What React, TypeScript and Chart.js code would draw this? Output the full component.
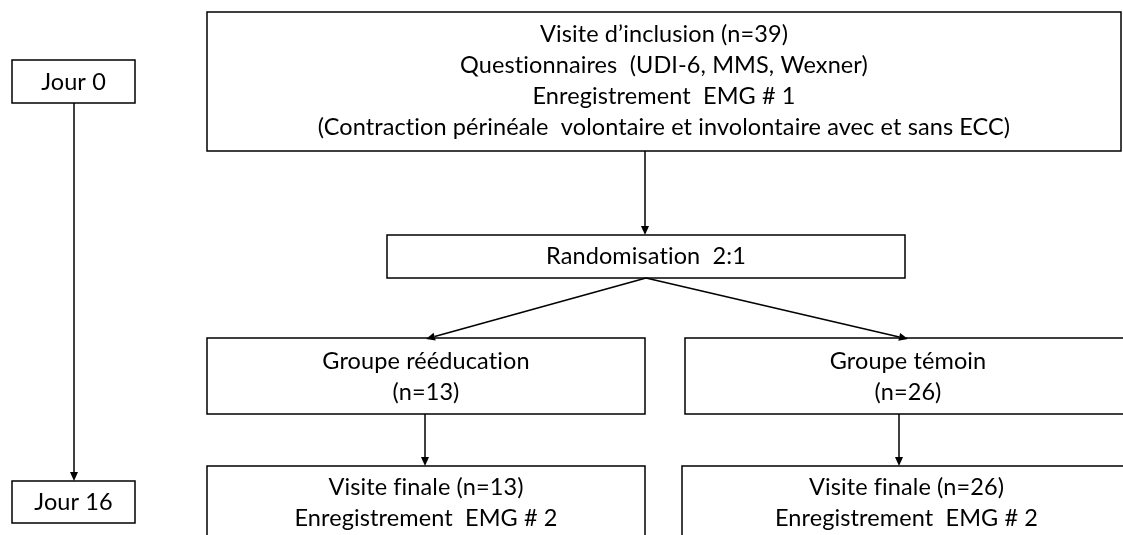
import React, { useEffect, useRef } from "react";
import { Chart, registerables } from "chart.js";

Chart.register(...registerables);

// ---- Content (text data) ----
const dayLabels = ["Jour 0", "Jour 16"];
const inclusionLines = [
  "Visite d\u2019inclusion (n=39)",
  "Questionnaires  (UDI-6, MMS, Wexner)",
  "Enregistrement  EMG # 1",
  "(Contraction périnéale  volontaire et involontaire avec et sans ECC)",
];
const randomLabel = "Randomisation  2:1";
const groupNames = ["Groupe rééducation", "Groupe témoin"];
const groupCounts = [13, 26];
const finalTitle = "Visite finale";
const finalRecording = "Enregistrement  EMG # 2";

// ---- Layout (in scale units, x: 0..1123, y: 0..535 top-down) ----
type Box = { x0: number; y0: number; x1: number; y1: number; ty: number; lines: string[] };

const boxes: Box[] = [
  { x0: 12, y0: 60, x1: 135, y1: 103, ty: 82, lines: [dayLabels[0]] },
  { x0: 12, y0: 481, x1: 135, y1: 523, ty: 502, lines: [dayLabels[1]] },
  { x0: 207, y0: 12, x1: 1121, y1: 151, ty: 81, lines: inclusionLines },
  { x0: 387, y0: 235, x1: 905, y1: 278, ty: 256.5, lines: [randomLabel] },
  { x0: 207, y0: 338, x1: 645, y1: 414, ty: 376.5, lines: [groupNames[0], `(n=${groupCounts[0]})`] },
  { x0: 685, y0: 338, x1: 1131, y1: 414, ty: 376.5, lines: [groupNames[1], `(n=${groupCounts[1]})`] },
  { x0: 207, y0: 466, x1: 645, y1: 560, ty: 502.5, lines: [`${finalTitle} (n=${groupCounts[0]})`, finalRecording] },
  { x0: 682, y0: 466, x1: 1131, y1: 560, ty: 502.5, lines: [`${finalTitle} (n=${groupCounts[1]})`, finalRecording] },
];

type Arrow = { x0: number; y0: number; x1: number; y1: number };
const arrows: Arrow[] = [
  { x0: 74, y0: 103, x1: 74, y1: 481 },
  { x0: 645, y0: 151, x1: 645, y1: 235 },
  { x0: 646, y0: 278, x1: 426, y1: 339 },
  { x0: 646, y0: 278, x1: 908, y1: 339 },
  { x0: 425, y0: 414, x1: 425, y1: 466 },
  { x0: 899, y0: 414, x1: 899, y1: 466 },
];

const LINE_GAP = 31;
const FONT = "23.5px Lato";

const flowPlugin = {
  id: "flow",
  afterDraw(chart: any) {
    const { ctx, scales } = chart;
    const X = (v: number) => scales.x.getPixelForValue(v);
    const Y = (v: number) => scales.y.getPixelForValue(v);
    ctx.save();
    ctx.fillStyle = "#ffffff";
    ctx.fillRect(0, 0, chart.width, chart.height);
    ctx.strokeStyle = "#000000";
    ctx.lineWidth = 1.5;
    // boxes
    boxes.forEach((b) => {
      ctx.strokeRect(X(b.x0), Y(b.y0), X(b.x1) - X(b.x0), Y(b.y1) - Y(b.y0));
      ctx.fillStyle = "#000000";
      ctx.font = FONT;
      try { (ctx as any).letterSpacing = "0.1px"; } catch (e) {}
      ctx.textAlign = "center";
      ctx.textBaseline = "middle";
      const cx = (X(b.x0) + X(b.x1)) / 2;
      const n = b.lines.length;
      b.lines.forEach((t, i) => {
        const y = Y(b.ty) + (i - (n - 1) / 2) * LINE_GAP;
        ctx.fillText(t, cx, y);
      });
    });
    // arrows
    arrows.forEach((a) => {
      const x0 = X(a.x0), y0 = Y(a.y0), x1 = X(a.x1), y1 = Y(a.y1);
      const ang = Math.atan2(y1 - y0, x1 - x0);
      const L = 9, W = 4;
      const bx = x1 - L * Math.cos(ang), by = y1 - L * Math.sin(ang);
      ctx.beginPath();
      ctx.moveTo(x0, y0);
      ctx.lineTo(bx, by);
      ctx.stroke();
      ctx.beginPath();
      ctx.moveTo(x1, y1);
      ctx.lineTo(bx + W * Math.sin(ang), by - W * Math.cos(ang));
      ctx.lineTo(bx - W * Math.sin(ang), by + W * Math.cos(ang));
      ctx.closePath();
      ctx.fillStyle = "#000000";
      ctx.fill();
    });
    ctx.restore();
  },
};

export default function App() {
  const ref = useRef<HTMLCanvasElement | null>(null);
  useEffect(() => {
    document.body.style.margin = "0";
    if (!ref.current) return;
    const chart = new Chart(ref.current, {
      type: "scatter",
      data: {
        datasets: [
          {
            data: boxes.map((b) => ({ x: (b.x0 + b.x1) / 2, y: b.ty })),
            pointRadius: 0,
            showLine: false,
          },
        ],
      },
      options: {
        animation: false,
        responsive: true,
        maintainAspectRatio: false,
        layout: { padding: 0 },
        plugins: { legend: { display: false }, tooltip: { enabled: false } },
        events: [],
        scales: {
          x: { type: "linear", min: 0, max: 1123, display: false },
          y: { type: "linear", min: 0, max: 535, reverse: true, display: false },
        },
      },
      plugins: [flowPlugin],
    });
    return () => chart.destroy();
  }, []);
  return (
    <div style={{ width: 1123, height: 535, position: "relative" }}>
      <canvas ref={ref} />
    </div>
  );
}
